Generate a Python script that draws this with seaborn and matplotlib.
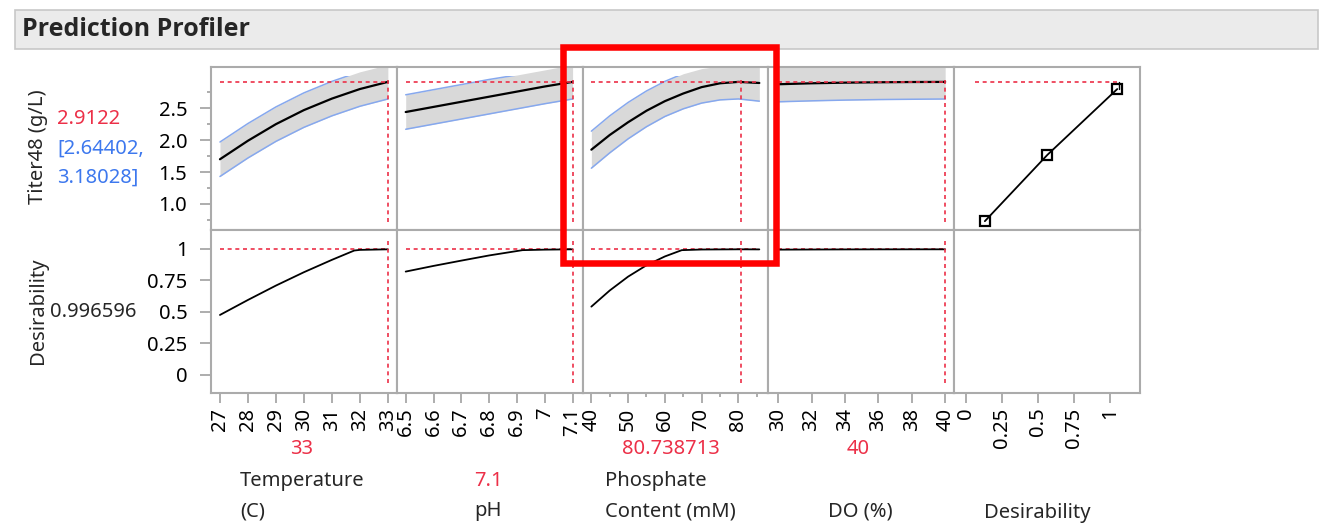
import numpy as np
import pandas as pd
import matplotlib
matplotlib.use("Agg")
import matplotlib.pyplot as plt
from matplotlib.patches import Rectangle
import seaborn as sns

# profile traces
temp = [27, 28, 29, 30, 31, 32, 33]
temp_fit = [1.70, 1.99, 2.25, 2.47, 2.65, 2.80, 2.912]
temp_lo = [1.43, 1.72, 1.98, 2.20, 2.38, 2.53, 2.644]
temp_hi = [1.97, 2.26, 2.52, 2.74, 2.92, 3.07, 3.18]
temp_dx = [27, 28, 29, 30, 31, 31.8, 32, 33]
temp_d = [0.476, 0.595, 0.709, 0.815, 0.913, 0.987, 0.992, 0.9966]

ph = [6.5, 6.6, 6.7, 6.8, 6.9, 7.0, 7.1]
ph_fit = [2.44, 2.52, 2.60, 2.68, 2.76, 2.84, 2.912]
ph_lo = [2.17, 2.25, 2.33, 2.41, 2.49, 2.57, 2.644]
ph_hi = [2.71, 2.79, 2.87, 2.95, 3.02, 3.10, 3.18]
ph_dx = [6.5, 6.6, 6.7, 6.8, 6.92, 7.0, 7.1]
ph_d = [0.82, 0.865, 0.907, 0.948, 0.99, 0.994, 0.9966]

phos = [40, 45, 50, 55, 60, 65, 70, 75, 80, 85.7]
phos_fit = [1.85, 2.08, 2.28, 2.46, 2.61, 2.73, 2.83, 2.89, 2.912, 2.895]
phos_lo = [1.56, 1.80, 2.02, 2.21, 2.37, 2.49, 2.58, 2.63, 2.645, 2.61]
phos_hi = [2.14, 2.38, 2.59, 2.77, 2.92, 3.04, 3.12, 3.16, 3.18, 3.18]
phos_dx = [40, 45, 50, 55, 60, 64.6, 70, 80, 85.7]
phos_d = [0.542, 0.67, 0.78, 0.87, 0.94, 0.99, 0.995, 0.9966, 0.996]

do = [30, 32, 34, 36, 38, 40]
do_fit = [2.875, 2.89, 2.90, 2.906, 2.91, 2.912]
do_lo = [2.60, 2.615, 2.627, 2.635, 2.64, 2.644]
do_hi = [3.15, 3.165, 3.172, 3.177, 3.18, 3.18]
do_d = [0.994, 0.995, 0.9958, 0.9962, 0.9965, 0.9966]

# desirability function handles (desirability, titer)
des_x = [0.13, 0.565, 1.05]
des_y = [0.73, 1.77, 2.80]

current = [33, 7.1, 80.738713, 40]
current_txt = ["33", "7.1", "80.738713", "40"]
titer_pred = 2.9122
titer_ci = [2.64402, 3.18028]
desir = 0.996596

temp_ticks = [27, 28, 29, 30, 31, 32, 33]
ph_ticks = [6.5, 6.6, 6.7, 6.8, 6.9, 7.0, 7.1]
ph_ticklabels = ["6.5", "6.6", "6.7", "6.8", "6.9", "7", "7.1"]
phos_ticks = [40, 50, 60, 70, 80]
do_ticks = [30, 32, 34, 36, 38, 40]
des_ticks = [0, 0.25, 0.5, 0.75, 1]
des_ticklabels = ["0", "0.25", "0.5", "0.75", "1"]
titer_ticks = [1.0, 1.5, 2.0, 2.5]
d_ticks = [0, 0.25, 0.5, 0.75, 1]

sns.set_theme(style="white")
plt.rcParams["font.family"] = ["Noto Sans", "DejaVu Sans"]

RED = "#ec3048"
BLUE = "#3d78ee"
CI = "#86a8ee"
FILL = "#d9d9d9"
FRAME = "#ababab"
FS = 14.5
dash = (0, (2.4, 2.2))

fig, axes = plt.subplots(2, 5, figsize=(13.28, 5.26), dpi=100)
fig.subplots_adjust(left=211/1328, right=1140/1328, top=1-66.7/526,
                    bottom=1-393/526, wspace=0, hspace=0)

factors = [
    (temp, temp_fit, temp_lo, temp_hi, temp_dx, temp_d, (26.68, 33.32)),
    (ph, ph_fit, ph_lo, ph_hi, ph_dx, ph_d, (6.468, 7.136)),
    (phos, phos_fit, phos_lo, phos_hi, phos_dx, phos_d, (37.62, 88.17)),
    (do, do_fit, do_lo, do_hi, do, do_d, (29.42, 40.54)),
]
xticks = [(temp_ticks, [str(t) for t in temp_ticks]),
          (ph_ticks, ph_ticklabels),
          (phos_ticks, [str(t) for t in phos_ticks]),
          (do_ticks, [str(t) for t in do_ticks]),
          (des_ticks, des_ticklabels)]

TOP_LIM = (0.594, 3.15)
BOT_LIM = (-0.143, 1.151)

for i, (x, fit, lo, hi, dx, d, xl) in enumerate(factors):
    ax = axes[0, i]
    ax.fill_between(x, lo, hi, color=FILL, lw=0, zorder=1)
    sns.lineplot(x=x, y=lo, ax=ax, color=CI, lw=1.1, zorder=2)
    sns.lineplot(x=x, y=hi, ax=ax, color=CI, lw=1.1, zorder=2)
    # JMP stops the upper band line short of the frame
    ax.lines[-1].set_clip_path(Rectangle((xl[0], TOP_LIM[0]), xl[1]-xl[0], 3.0-TOP_LIM[0],
                                         transform=ax.transData))
    sns.lineplot(x=x, y=fit, ax=ax, color="black", lw=1.6, zorder=3)
    ax.plot([x[0], x[-1]], [titer_pred, titer_pred], color=RED, lw=1.2, ls=dash, zorder=4)
    ax.axvline(current[i], ymin=0.05, ymax=0.92, color=RED, lw=1.2, ls=dash, zorder=4)
    ax.set_xlim(xl)

    ax = axes[1, i]
    sns.lineplot(x=dx, y=d, ax=ax, color="black", lw=1.3, zorder=3)
    ax.plot([x[0], x[-1]], [desir, desir], color=RED, lw=1.2, ls=dash, zorder=2)
    ax.axvline(current[i], ymin=0.06, ymax=0.94, color=RED, lw=1.2, ls=dash, zorder=4)
    ax.set_xlim(xl)

# desirability function panel
ax = axes[0, 4]
ax.plot([0.0625, 1.0625], [titer_pred, titer_pred], color=RED, lw=1.2, ls=dash)
ax.plot([1.0625, 1.0625], [des_y[-1], titer_pred], color="black", lw=1.0)
sns.lineplot(x=des_x, y=des_y, ax=ax, color="black", lw=1.3, marker="s",
             markersize=7.5, markerfacecolor="none", markeredgecolor="black",
             markeredgewidth=1.6)
for r in range(2):
    axes[r, 4].set_xlim(-0.083, 1.208)

for r in range(2):
    for c in range(5):
        ax = axes[r, c]
        ax.set_ylim(TOP_LIM if r == 0 else BOT_LIM)
        ax.set_xlabel("")
        ax.set_ylabel("")
        for s in ax.spines.values():
            s.set_color(FRAME)
            s.set_linewidth(1.5)
        ax.tick_params(which="both", color="#a0a0a0", width=1.2, labelsize=FS,
                       labelcolor="black")
        if c == 0:
            ax.tick_params(axis="y", which="major", left=True, length=8, pad=9)
            ax.tick_params(axis="y", which="minor", left=True, length=3)
        else:
            ax.tick_params(axis="y", which="both", left=False, labelleft=False)
        if r == 1:
            ax.set_xticks(xticks[c][0])
            ax.set_xticklabels(xticks[c][1], rotation=90)
            ax.tick_params(axis="x", which="major", bottom=True, length=7.5, pad=3)
            ax.tick_params(axis="x", which="minor", bottom=True, length=3)
        else:
            ax.tick_params(axis="x", which="both", bottom=False, labelbottom=False)

axes[0, 0].set_yticks(titer_ticks)
axes[0, 0].set_yticklabels([f"{t:.1f}" for t in titer_ticks])
axes[0, 0].set_yticks([0.75, 1.25, 1.75, 2.25, 2.75], minor=True)
axes[1, 0].set_yticks(d_ticks)
axes[1, 0].set_yticklabels(["0", "0.25", "0.5", "0.75", "1"])
axes[1, 2].set_xticks([45, 55, 65, 75, 85], minor=True)

W, H = 1328, 526
def ft(x, y, s, **kw):
    kw.setdefault("fontsize", FS)
    kw.setdefault("va", "center")
    fig.text(x / W, 1 - y / H, s, **kw)

# header bar
fig.patches.append(Rectangle((15 / W, 1 - 49 / H), 1303 / W, 39 / H, transform=fig.transFigure,
                             facecolor="#ebebeb", edgecolor="#c8c8c8", lw=1.2, zorder=0))
ft(22, 29, "Prediction Profiler", fontsize=18, fontweight="bold",
   family=["Open Sans", "Lato", "DejaVu Sans"])

# response side labels
ft(38, 147, "Titer48 (g/L)", rotation=90, ha="center")
ft(38, 311, "Desirability", rotation=90, ha="center")
ft(57, 119, f"{titer_pred:g}", color=RED, ha="left")
ft(57, 149, f"[{titer_ci[0]:g},", color=BLUE, ha="left")
ft(57, 178, f"{titer_ci[1]:g}]", color=BLUE, ha="left")
ft(50, 312, f"{desir:g}", ha="left")

# factor labels and current settings
ft(302, 449, current_txt[0], color=RED, ha="center")
ft(240, 481, "Temperature", ha="left")
ft(240, 511, "(C)", ha="left")
ft(488, 481, current_txt[1], color=RED, ha="center")
ft(488, 511, "pH", ha="center")
ft(671, 449, current_txt[2], color=RED, ha="center")
ft(605, 481, "Phosphate", ha="left")
ft(605, 511, "Content (mM)", ha="left")
ft(858, 449, current_txt[3], color=RED, ha="center")
ft(860, 511, "DO (%)", ha="center")
ft(1037, 513, "Desirability", ha="center")

# red highlight box drawn over the phosphate profile in the screenshot
fig.patches.append(Rectangle((563 / W, 1 - 262.5 / H), 213 / W, 216 / H, transform=fig.transFigure,
                             facecolor="none", edgecolor="#ff0000", lw=4.7, zorder=10))

fig.savefig("out.png", dpi=100)
